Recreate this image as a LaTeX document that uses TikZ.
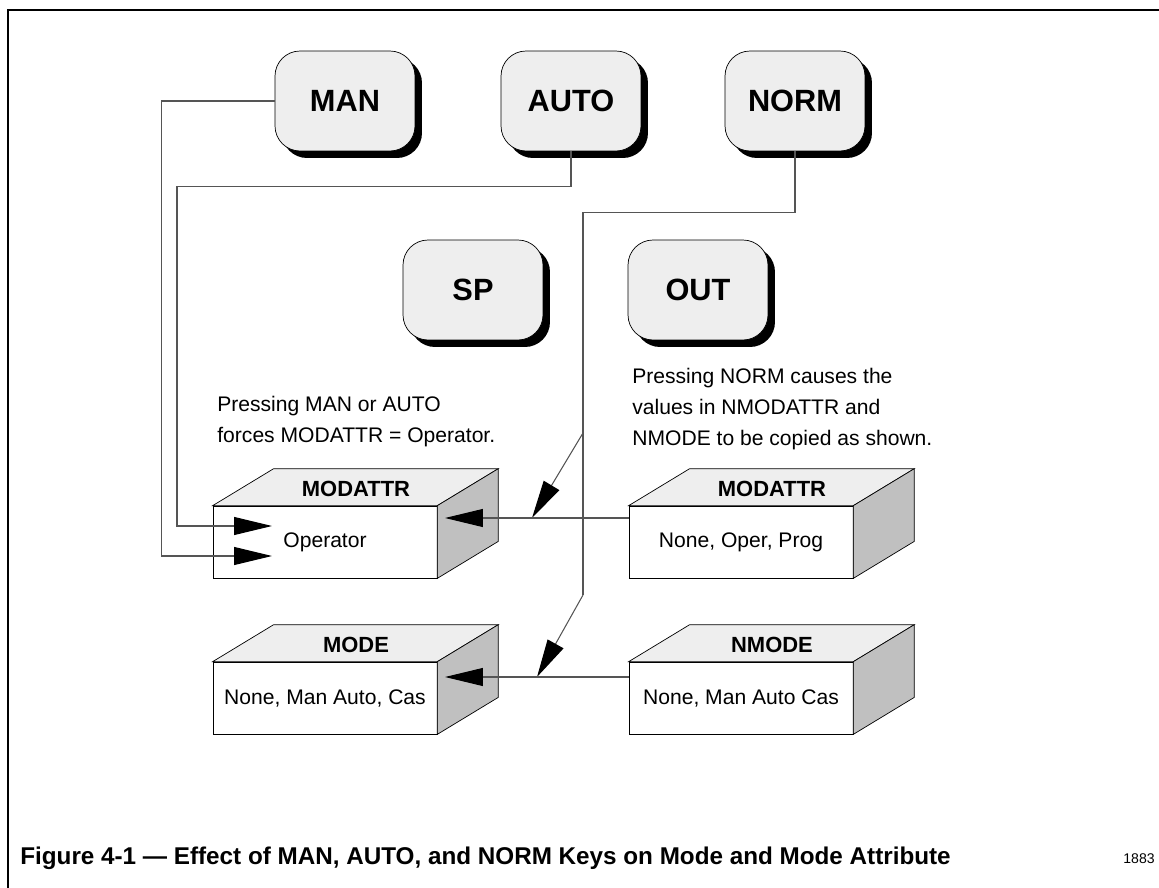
\documentclass[tikz,border=0pt]{standalone}
\usepackage{fontspec}
\setmainfont{Liberation Sans}
\usetikzlibrary{arrows.meta,shadows}
\definecolor{keygray}{RGB}{238,238,238}
\definecolor{sidegray}{RGB}{192,192,192}
\definecolor{wiregray}{RGB}{85,85,85}

\begin{document}
\begin{tikzpicture}[x=0.02cm, y=-0.02cm,
  keybox/.style={rectangle, rounded corners=0.5cm, draw=black, thin, fill=keygray,
                 minimum width=2.8cm, minimum height=2cm,
                 font=\fontsize{17.5}{20}\selectfont\bfseries,
                 drop shadow={shadow xshift=0.14cm, shadow yshift=-0.14cm,
                              fill=black, opacity=1}},
  facebox/.style={rectangle, draw=black, thin, fill=white,
                  minimum width=4.48cm, minimum height=1.44cm,
                  font=\fontsize{12}{14}\selectfont},
  boxtitle/.style={font=\fontsize{12.5}{14}\selectfont\bfseries},
  note/.style={align=left, anchor=north west, inner sep=0pt,
               font=\fontsize{12}{17.5}\selectfont},
  wire/.style={draw=wiregray, line width=0.6pt},
  flowarr/.style={wire, -{Triangle[length=0.76cm,width=0.36cm,color=black]}}
]
\useasboundingbox (0,0) rectangle (1159,888);

% Frame
\draw[line width=1.3pt] (8,888) -- (8,10) -- (1159,10);

% Keys
\node[keybox] (man)  at (345,101) {MAN};
\node[keybox] (auto) at (571,101) {AUTO};
\node[keybox] (norm) at (795,101) {NORM};
\node[keybox] (sp)   at (473,290) {SP};
\node[keybox] (out)  at (698,290) {OUT};

% Parameter boxes (front faces)
\node[facebox] (mattr)  at (325,542) {Operator};
\node[facebox] (mode)   at (325,698) {None, Man Auto, Cas};
\node[facebox] (nmattr) at (741,542) {None, Oper, Prog};
\node[facebox] (nmode)  at (741,698) {None, Man Auto Cas};

% Top and side faces
\foreach \f in {mattr, mode, nmattr, nmode} {
  \filldraw[fill=keygray, thin] (\f.north west) -- ++(61,-37)
    -- ([shift={(61,-37)}]\f.north east) -- (\f.north east) -- cycle;
  \filldraw[fill=sidegray, thin] (\f.north east) -- ++(61,-37)
    -- ([shift={(61,-37)}]\f.south east) -- (\f.south east) -- cycle;
}

% Box titles
\node[boxtitle] (mattrT)  at ([shift={(31,-17)}]mattr.north)  {MODATTR};
\node[boxtitle] (modeT)   at ([shift={(31,-17)}]mode.north)   {MODE};
\node[boxtitle] (nmattrT) at ([shift={(31,-17)}]nmattr.north) {MODATTR};
\node[boxtitle] (nmodeT)  at ([shift={(31,-17)}]nmode.north)  {NMODE};

% Notes
\node[note] (mannote)  at (217,396) {Pressing MAN or AUTO\\forces MODATTR = Operator.};
\node[note] (normnote) at (632,368) {Pressing NORM causes the\\values in NMODATTR and\\NMODE to be copied as shown.};

% Connector points
\coordinate (manIn)    at (272,556);
\coordinate (autoIn)   at (272,526);
\coordinate (split1)   at (583,433);
\coordinate (split2)   at (583,595);
\coordinate (mattrTip) at (532,518);
\coordinate (modeTip)  at (537,677);
\coordinate (mattrSide) at (445,518);
\coordinate (modeSide)  at (445,677);

% Connectors
\draw[flowarr] (man.west) -- ++(-113,0) |- (manIn);
\draw[flowarr] (auto.south) |- ++(-394,35) |- (autoIn);
\draw[wire]    (norm.south) |- ++(-212,61) -- (split2);
\draw[flowarr] (split1) -- (mattrTip);
\draw[flowarr] (split2) -- (modeTip);
\draw[flowarr] ([shift={(0,-24)}]nmattr.west) -- (mattrSide);
\draw[flowarr] ([shift={(0,-21)}]nmode.west) -- (modeSide);

% Caption
\node[anchor=base west, inner sep=0pt, font=\fontsize{13.8}{16}\selectfont\bfseries]
  (caption) at (20,864) {Figure 4-1 --- Effect of MAN, AUTO, and NORM Keys on Mode and Mode Attribute};
\node[anchor=base east, inner sep=0pt, font=\fontsize{8}{10}\selectfont]
  (fignum) at (1155,863) {1883};
\end{tikzpicture}
\end{document}
